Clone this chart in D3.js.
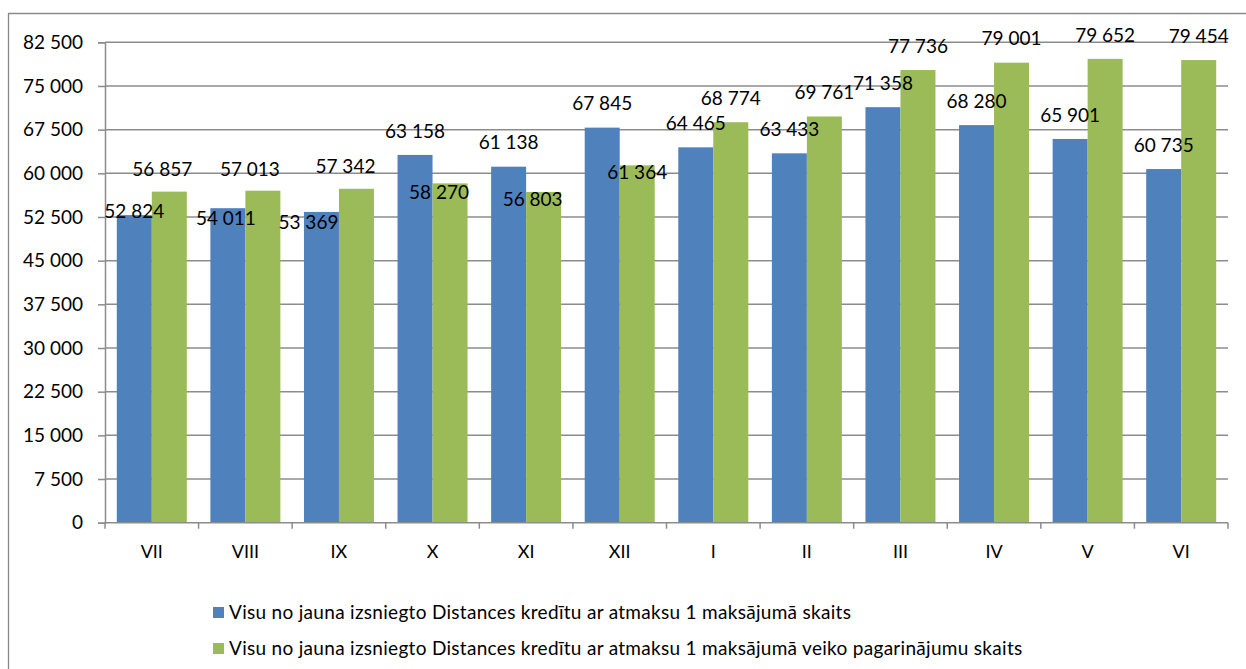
<!DOCTYPE html>
<html>
<head>
<meta charset="utf-8">
<script src="https://cdn.jsdelivr.net/npm/d3@7"></script>
<style>
  body { margin: 0; background: #fff; }
  svg { display: block; font-family: Lato, "Open Sans", sans-serif; }
</style>
</head>
<body>
<svg id="drawing_region"></svg>
<script>
// months (Roman numerals)
const months = ['VII','VIII','IX','X','XI','XII','I','II','III','IV','V','VI'];
const seriesNames = [
  'Visu no jauna izsniegto Distances kredītu ar atmaksu 1 maksājumā skaits',
  'Visu no jauna izsniegto Distances kredītu ar atmaksu 1 maksājumā veiko pagarinājumu skaits'
];
const credits = [52824, 54011, 53369, 63158, 61138, 67845, 64465, 63433, 71358, 68280, 65901, 60735];
const extensions = [56857, 57013, 57342, 58270, 56803, 61364, 68774, 69761, 77736, 79001, 79652, 79454];
const yTicks = [0, 7500, 15000, 22500, 30000, 37500, 45000, 52500, 60000, 67500, 75000, 82500];
const colors = ['#4f81bd', '#9bbb59'];

// label nudges (dx, dy) as they were placed in the original
const creditShift = [[0,20],[-2,34],[-13,34],[0,0],[0,0],[0,0],[0,0],[0,0],[0,0],[0,0],[0,0],[0,0]];
const extShift = [[-7,2],[-13,3],[-11,2],[-11,33],[-11,31],[0,31],[0,0],[0,0],[0,0],[0,0],[0,0],[0,0]];

const config = {
    width: 1246,
    height: 669,
    plot: { left: 105, right: 1228, top: 42.3, bottom: 522.7 }
};

const fmt = v => d3.format(',')(v).replace(/,/g, ' ');

const svg = d3.select('#drawing_region')
    .attr('width', config.width)
    .attr('height', config.height);

// outer chart frame (cut off on the right and bottom)
svg.append('path')
    .attr('d', `M8.5,${config.height} V13.5 H${config.width}`)
    .attr('fill', 'none')
    .attr('stroke', '#8a8a8a')
    .attr('stroke-width', 1.3);

const p = config.plot;

const x0 = d3.scaleBand()
    .domain(months)
    .range([p.left, p.right])
    .padding(0);

const x1 = d3.scaleBand()
    .domain([0, 1])
    .range([0, x0.bandwidth()])
    .paddingInner(0)
    .paddingOuter(0.337);

const y = d3.scaleLinear()
    .domain([0, 82500])
    .range([p.bottom, p.top]);

// gridlines
svg.append('g')
    .selectAll('line')
    .data(yTicks.slice(1))
    .join('line')
    .attr('x1', p.left)
    .attr('x2', p.right)
    .attr('y1', d => y(d))
    .attr('y2', d => y(d))
    .attr('stroke', '#8c8c8c')
    .attr('stroke-width', 1.5);

// y axis
const yAxis = svg.append('g')
    .attr('transform', `translate(${p.left},0)`)
    .call(d3.axisLeft(y).tickValues(yTicks).tickFormat(fmt).tickSize(7).tickPadding(15));
yAxis.select('.domain').attr('stroke', '#8c8c8c').attr('stroke-width', 1.5);
yAxis.selectAll('.tick line').attr('stroke', '#8c8c8c').attr('stroke-width', 1.5);
yAxis.selectAll('.tick text')
    .attr('font-size', 19)
    .attr('font-family', 'Lato, sans-serif')
    .attr('fill', '#000');

// bars
const series = [credits, extensions];
const shifts = [creditShift, extShift];
series.forEach((vals, s) => {
    svg.append('g')
        .selectAll('rect')
        .data(vals)
        .join('rect')
        .attr('x', (d, i) => x0(months[i]) + x1(s))
        .attr('y', d => y(d))
        .attr('width', x1.bandwidth())
        .attr('height', d => y(0) - y(d))
        .attr('fill', colors[s]);
});

// x axis (ticks between categories)
svg.append('line')
    .attr('x1', p.left).attr('x2', p.right)
    .attr('y1', y(0)).attr('y2', y(0))
    .attr('stroke', '#8c8c8c').attr('stroke-width', 1.5);
const bounds = months.map(m => x0(m)).concat([p.right]);
svg.append('g')
    .selectAll('line')
    .data(bounds)
    .join('line')
    .attr('x1', d => d).attr('x2', d => d)
    .attr('y1', y(0)).attr('y2', y(0) + 6)
    .attr('stroke', '#8c8c8c').attr('stroke-width', 1.5);
svg.append('g')
    .selectAll('text')
    .data(months)
    .join('text')
    .attr('x', d => x0(d) + x0.bandwidth() / 2)
    .attr('y', y(0) + 29)
    .attr('dy', '0.35em')
    .attr('text-anchor', 'middle')
    .attr('font-size', 18)
    .text(d => d);

// data labels
series.forEach((vals, s) => {
    svg.append('g')
        .selectAll('text')
        .data(vals)
        .join('text')
        .attr('x', (d, i) => x0(months[i]) + x1(s) + x1.bandwidth() / 2 + shifts[s][i][0])
        .attr('y', (d, i) => y(d) - 24 + shifts[s][i][1])
        .attr('dy', '0.35em')
        .attr('text-anchor', 'middle')
        .attr('font-size', 19)
        .text(d => fmt(d));
});

// legend
const legend = svg.append('g')
    .attr('transform', 'translate(213,0)');
seriesNames.forEach((name, s) => {
    const cy = 612 + s * 36;
    legend.append('rect')
        .attr('x', 0).attr('y', cy - 5)
        .attr('width', 11).attr('height', 11)
        .attr('fill', colors[s]);
    legend.append('text')
        .attr('x', 16)
        .attr('y', cy)
        .attr('dy', '0.35em')
        .attr('font-size', 19)
        .attr('letter-spacing', 0.3)
        .text(name);
});
</script>
</body>
</html>
